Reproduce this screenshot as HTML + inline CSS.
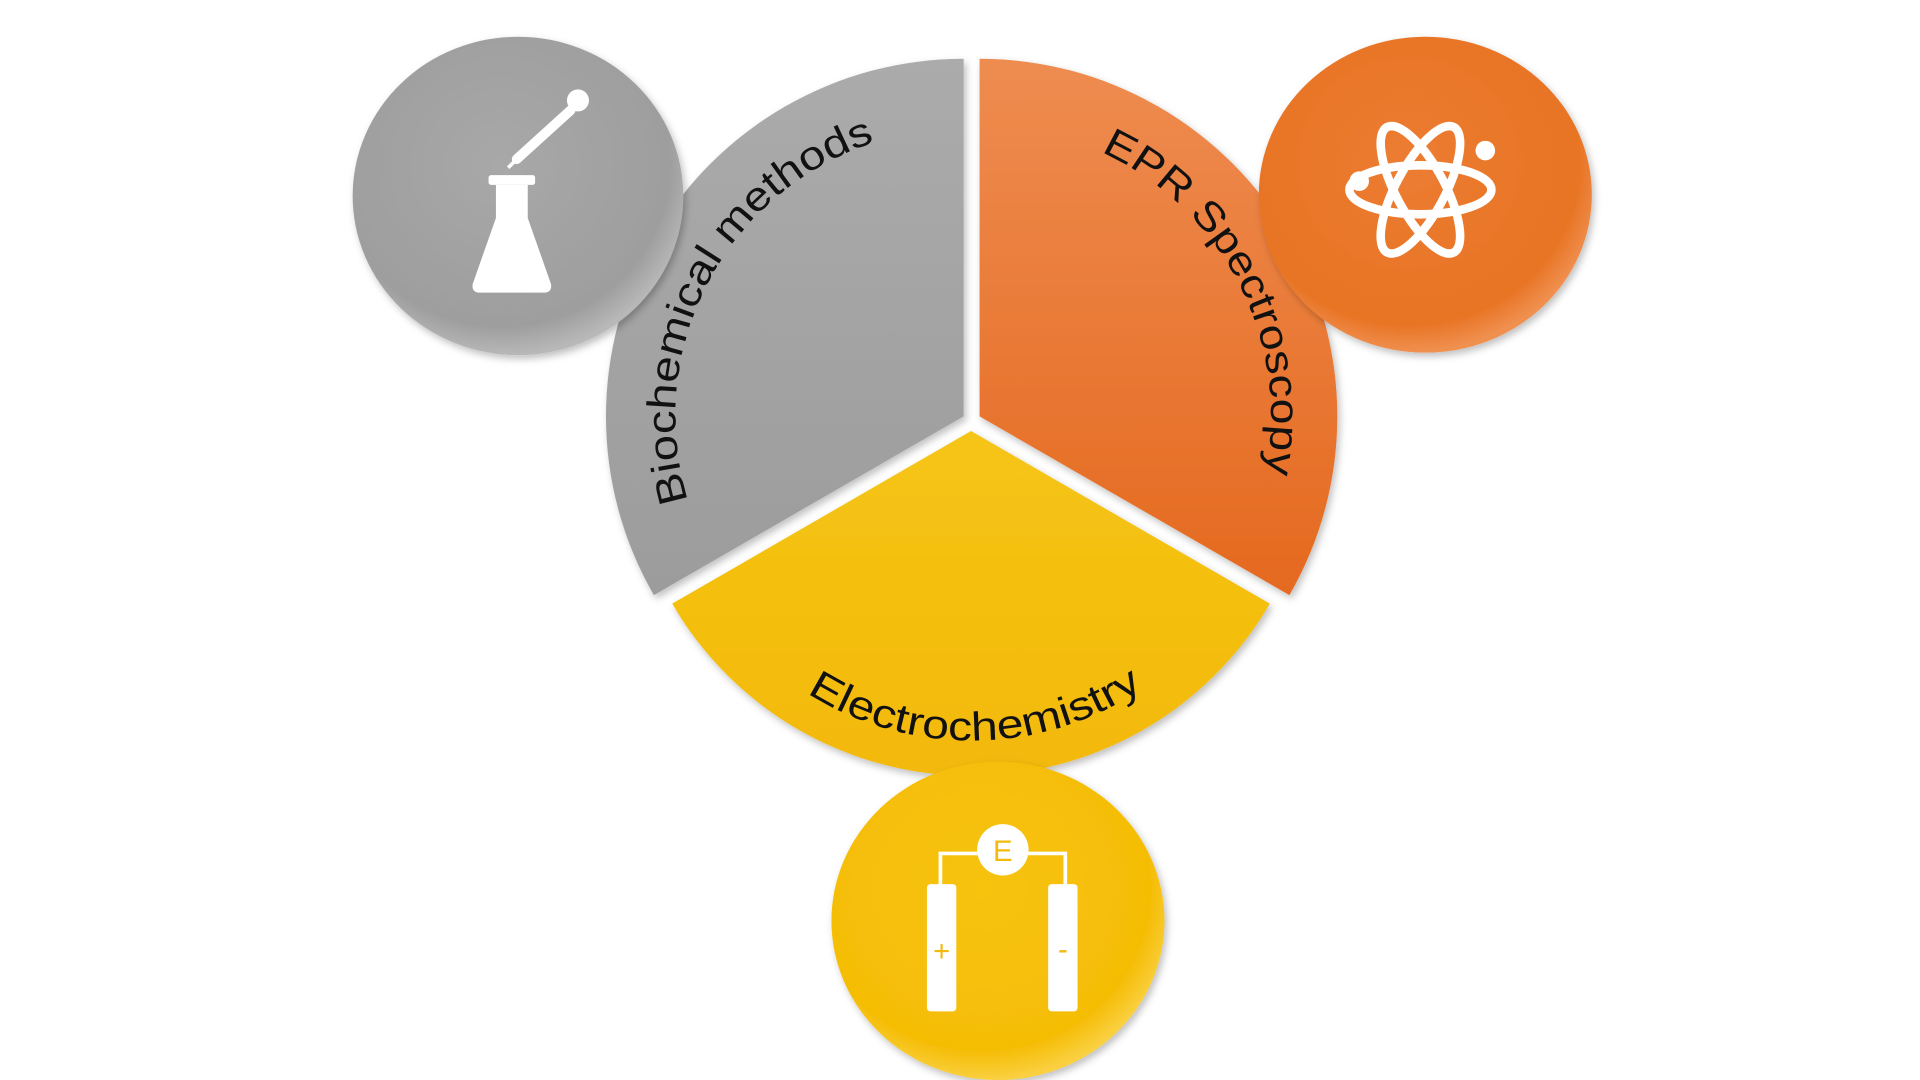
<!DOCTYPE html>
<html><head><meta charset="utf-8"><style>html,body{margin:0;padding:0;background:#fff;overflow:hidden}svg{display:block}</style></head>
<body>
<svg width="1920" height="1080" viewBox="0 0 1568 882" xmlns="http://www.w3.org/2000/svg">
<defs>
<linearGradient id="gg" x1="0" y1="0" x2="0" y2="1"><stop offset="0" stop-color="#ababab"/><stop offset="1" stop-color="#9c9c9c"/></linearGradient>
<linearGradient id="og" x1="0" y1="0" x2="0" y2="1"><stop offset="0" stop-color="#ee8c50"/><stop offset="1" stop-color="#e5691f"/></linearGradient>
<linearGradient id="yg" x1="0" y1="0" x2="0" y2="1"><stop offset="0" stop-color="#f5c514"/><stop offset="1" stop-color="#f3b90c"/></linearGradient>
<radialGradient id="gc" cx="0.45" cy="0.4" r="0.6"><stop offset="0" stop-color="#a8a8a8"/><stop offset="0.85" stop-color="#9e9e9e"/><stop offset="1" stop-color="#b8b8b8"/></radialGradient>
<radialGradient id="oc" cx="0.45" cy="0.4" r="0.6"><stop offset="0" stop-color="#ec7c32"/><stop offset="0.85" stop-color="#e87424"/><stop offset="1" stop-color="#f09050"/></radialGradient>
<radialGradient id="yc" cx="0.45" cy="0.4" r="0.6"><stop offset="0" stop-color="#f7c30a"/><stop offset="0.85" stop-color="#f5bd06"/><stop offset="1" stop-color="#fad040"/></radialGradient>
<filter id="sh" x="-20%" y="-20%" width="140%" height="140%"><feDropShadow dx="2" dy="3" stdDeviation="3" flood-color="#000" flood-opacity="0.25"/></filter>
<path id="tp1" d="M 562 409 A 235 235 0 0 1 718 115"/>
<path id="tp2" d="M 899 124 A 238 238 0 0 1 1033 389"/>
<path id="tp3" d="M 659 566 A 252 252 0 0 0 938 559"/>
</defs>
<path d="M787 340 L787 48 A292 292 0 0 0 534 486 Z" fill="url(#gg)" filter="url(#sh)"/>
<path d="M800 340 L800 48 A292 292 0 0 1 1053 486 Z" fill="url(#og)" filter="url(#sh)"/>
<path d="M793 352 L1037 493 A282 282 0 0 1 549 493 Z" fill="url(#yg)" filter="url(#sh)"/>
<g font-family="Liberation Sans, sans-serif" font-size="33" fill="#111">
<text><textPath href="#tp1" textLength="366" lengthAdjust="spacingAndGlyphs">Biochemical methods</textPath></text>
<text><textPath href="#tp2" textLength="318" lengthAdjust="spacingAndGlyphs">EPR Spectroscopy</textPath></text>
<text><textPath href="#tp3" textLength="290" lengthAdjust="spacingAndGlyphs">Electrochemistry</textPath></text>
</g>
<ellipse cx="423" cy="160" rx="135" ry="130" fill="url(#gc)" filter="url(#sh)"/>
<ellipse cx="1164" cy="159" rx="136" ry="129" fill="url(#oc)" filter="url(#sh)"/>
<ellipse cx="815" cy="752" rx="136" ry="130" fill="url(#yc)" filter="url(#sh)"/>
<g fill="#fff">
<rect x="399" y="143" width="38" height="8" rx="2"/>
<path d="M405 151 L431 151 L431 178 L450 232 Q451 239 444 239 L392 239 Q385 239 386 232 L405 178 Z"/>
<line x1="422" y1="130" x2="466" y2="90" stroke="#fff" stroke-width="8" stroke-linecap="round"/>
<circle cx="472" cy="82" r="9"/>
<line x1="415" y1="137" x2="422" y2="130" stroke="#fff" stroke-width="3"/>
</g>
<g fill="none" stroke="#fff" stroke-width="7">
<ellipse cx="1160" cy="155" rx="58" ry="20"/>
<ellipse cx="1160" cy="155" rx="58" ry="20" transform="rotate(62 1160 155)"/>
<ellipse cx="1160" cy="155" rx="58" ry="20" transform="rotate(-62 1160 155)"/>
</g>
<circle cx="1110" cy="148" r="8" fill="#fff"/>
<circle cx="1213" cy="123" r="8" fill="#fff"/>
<g fill="#fff">
<path d="M768 724 L768 697 L870 697 L870 724" fill="none" stroke="#fff" stroke-width="3"/>
<circle cx="819" cy="694" r="21"/>
<rect x="757" y="722" width="24" height="104" rx="3"/>
<rect x="856" y="722" width="24" height="104" rx="3"/>
</g>
<g font-family="Liberation Sans, sans-serif" fill="#f3b90c" text-anchor="middle">
<text x="819" y="703" font-size="24">E</text>
<text x="769" y="785" font-size="24">+</text>
<text x="868" y="783" font-size="24">-</text>
</g>
</svg>
</body></html>
